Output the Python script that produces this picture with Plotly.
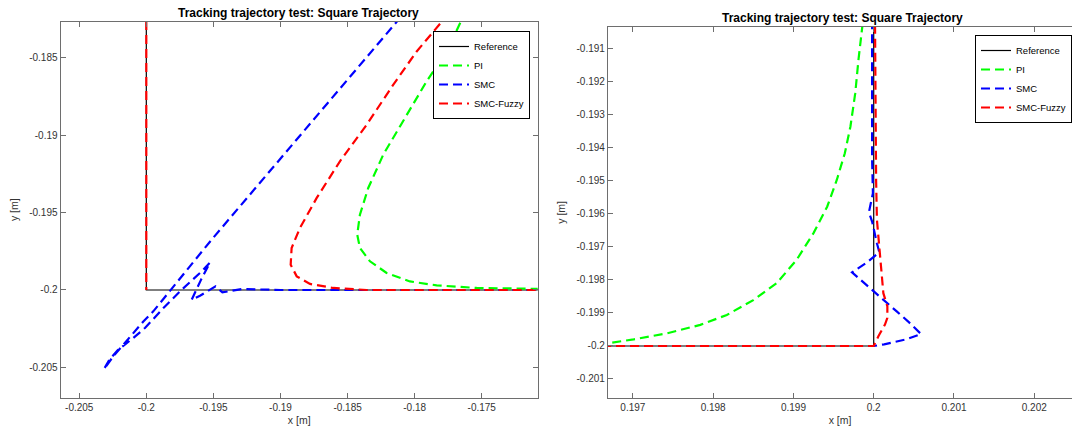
import plotly.graph_objects as go

# ---------------- data ----------------
series_names = ["Reference", "PI", "SMC", "SMC-Fuzzy"]
series_colors = ["#000000", "#00ff00", "#0000ff", "#ff0000"]

# Left panel (corner at (-0.2, -0.2))
left_ref_x = [-0.2, -0.2, -0.16]
left_ref_y = [-0.17, -0.2, -0.2]

left_pi_x = [-0.1748, -0.17655, -0.17762, -0.17911, -0.18085, -0.18234, -0.18346, -0.18408,
             -0.18428, -0.18408, -0.18333, -0.18209, -0.18035, -0.17836, -0.17538, -0.17091, -0.165]
left_pi_y = [-0.1795, -0.18270, -0.18461, -0.18654, -0.18912, -0.19127, -0.19342, -0.19514,
             -0.19643, -0.19729, -0.19815, -0.19890, -0.19945, -0.19970, -0.19987, -0.19998, -0.2]

left_smc_x = [-0.1785, -0.18134, -0.19513, -0.19769, -0.19948, -0.20022, -0.20171, -0.20246, -0.20315,
              -0.20275, -0.20209, -0.20097, -0.20010, -0.19861, -0.19736, -0.19587, -0.19525,
              -0.19590, -0.19662, -0.19600, -0.19484, -0.19433, -0.19380, -0.19291, -0.1900, -0.16]
left_smc_y = [-0.1795, -0.18270, -0.19675, -0.19951, -0.20138, -0.20203, -0.20353, -0.20428, -0.20510,
              -0.20450, -0.20385, -0.20310, -0.20245, -0.20106, -0.19998, -0.19880, -0.19822,
              -0.19930, -0.20063, -0.20037, -0.19977, -0.20015, -0.20008, -0.19994, -0.2000, -0.2]

left_fuzzy_x = [-0.2, -0.2, None,
                -0.1755, -0.17799, -0.17985, -0.18159, -0.18358, -0.18557, -0.18730, -0.18855,
                -0.18917, -0.18924, -0.18879, -0.18780, -0.18607, -0.18358, -0.17, -0.16]
left_fuzzy_y = [-0.17, -0.2, None,
                -0.1800, -0.18270, -0.18461, -0.18675, -0.18934, -0.19170, -0.19406, -0.19600,
                -0.19729, -0.19837, -0.19912, -0.19961, -0.19987, -0.2000, -0.2, -0.2]

# Right panel (corner at (0.2, -0.2))
right_ref_x = [0.19, 0.2, 0.2]
right_ref_y = [-0.2, -0.2, -0.18]

right_pi_x = [0.1950, 0.1960, 0.19668, 0.19701, 0.19742, 0.19784, 0.19817, 0.19850, 0.19879,
              0.19904, 0.19925, 0.19942, 0.19954, 0.19964, 0.19971, 0.19977, 0.19981, 0.19986, 0.19993]
right_pi_y = [-0.19999, -0.19997, -0.19992, -0.19980, -0.19962, -0.19936, -0.19906, -0.19861, -0.19810,
              -0.19739, -0.19658, -0.19578, -0.19497, -0.19416, -0.19335, -0.19234, -0.19133, -0.19032, -0.1888]

right_smc_x = [0.194, 0.2, 0.20013, 0.20040, 0.20059, 0.20043, 0.20029, 0.20008, 0.19996, 0.19973,
               0.19991, 0.20007, 0.20004, 0.19998, 0.19994, 0.19996, 0.19999, 0.19998, 0.19998, 0.19998]
right_smc_y = [-0.2, -0.2, -0.19995, -0.19980, -0.19964, -0.19926, -0.19896, -0.19851, -0.19825, -0.19777,
               -0.19748, -0.19716, -0.19689, -0.19623, -0.19595, -0.19568, -0.19537, -0.19436, -0.1930, -0.1880]

right_fuzzy_x = [0.194, 0.2, 0.20006, 0.20014, 0.20017, 0.20017, 0.20012, 0.20009, 0.20006,
                 0.20004, 0.20003, 0.20002, 0.20001]
right_fuzzy_y = [-0.2, -0.2, -0.19970, -0.19935, -0.19915, -0.19880, -0.19840, -0.19760, -0.19679,
                 -0.19618, -0.19500, -0.19300, -0.18800]

# Ticks
left_xticks = [-0.205, -0.2, -0.195, -0.19, -0.185, -0.18, -0.175]
left_xtick_text = ["-0.205", "-0.2", "-0.195", "-0.19", "-0.185", "-0.18", "-0.175"]
left_yticks = [-0.185, -0.19, -0.195, -0.2, -0.205]
left_ytick_text = ["-0.185", "-0.19", "-0.195", "-0.2", "-0.205"]
right_xticks = [0.197, 0.198, 0.199, 0.2, 0.201, 0.202]
right_xtick_text = ["0.197", "0.198", "0.199", "0.2", "0.201", "0.202"]
right_yticks = [-0.191, -0.192, -0.193, -0.194, -0.195, -0.196, -0.197, -0.198, -0.199, -0.2, -0.201]
right_ytick_text = ["-0.191", "-0.192", "-0.193", "-0.194", "-0.195", "-0.196", "-0.197",
                    "-0.198", "-0.199", "-0.2", "-0.201"]

title_text = "Tracking trajectory test: Square Trajectory"
xlabel = "x [m]"
ylabel = "y [m]"

# ---------------- figure ----------------
W, H = 1072, 434
FONT = "Liberation Sans, Arial, Helvetica, sans-serif"
AXC = "#6e6e6e"
TXC = "#333333"

fig = go.Figure()

left_sets = [(left_ref_x, left_ref_y), (left_pi_x, left_pi_y),
             (left_smc_x, left_smc_y), (left_fuzzy_x, left_fuzzy_y)]
right_sets = [(right_ref_x, right_ref_y), (right_pi_x, right_pi_y),
              (right_smc_x, right_smc_y), (right_fuzzy_x, right_fuzzy_y)]

for panel, sets, xa, ya, lg in [(0, left_sets, "x", "y", "legend"),
                                (1, right_sets, "x2", "y2", "legend2")]:
    for i, (xs, ys) in enumerate(sets):
        if i == 0:
            line = dict(color=series_colors[i], width=1.2)
        else:
            line = dict(color=series_colors[i], width=2.2, dash="9px,5px")
        fig.add_trace(go.Scatter(x=xs, y=ys, mode="lines", name=series_names[i],
                                 line=line, xaxis=xa, yaxis=ya, legend=lg,
                                 connectgaps=False, hoverinfo="skip"))

def px_x(p):
    return p / W

def px_y(p):
    return 1 - p / H

axis_common = dict(showgrid=False, zeroline=False, showline=True, linecolor=AXC, linewidth=1.3,
                   ticks="inside", ticklen=5, tickcolor=AXC, tickwidth=1,
                   tickfont=dict(family=FONT, size=10, color=TXC), automargin=False,
                   tickmode="array")

fig.update_layout(
    width=W, height=H, margin=dict(l=0, r=0, t=0, b=0),
    paper_bgcolor="white", plot_bgcolor="white",
    font=dict(family=FONT, size=10, color=TXC),
    xaxis=dict(domain=[px_x(60.7), px_x(537.7)], range=[-0.20638, -0.17083], anchor="y",
               tickvals=left_xticks, ticktext=left_xtick_text, mirror="ticks",
               title=dict(text=xlabel, font=dict(family=FONT, size=10.5, color=TXC), standoff=4),
               **axis_common),
    yaxis=dict(domain=[px_y(397.7), px_y(21.7)], range=[-0.20695, -0.18269], anchor="x",
               tickvals=left_yticks, ticktext=left_ytick_text, mirror="ticks",
               title=dict(text=ylabel, font=dict(family=FONT, size=10.5, color=TXC), standoff=8),
               **axis_common),
    xaxis2=dict(domain=[px_x(608), 1.0], range=[0.19669, 0.20247], anchor="y2",
                tickvals=right_xticks, ticktext=right_xtick_text, mirror="ticks",
                title=dict(text=xlabel, font=dict(family=FONT, size=10.5, color=TXC), standoff=4),
                **axis_common),
    yaxis2=dict(domain=[px_y(398.3), px_y(26.5)], range=[-0.201585, -0.19032], anchor="x2",
                tickvals=right_yticks, ticktext=right_ytick_text, mirror=False,
                title=dict(text=ylabel, font=dict(family=FONT, size=10.5, color=TXC), standoff=8),
                **axis_common),
    legend=dict(x=px_x(433), y=px_y(31), xanchor="left", yanchor="top",
                bgcolor="white", bordercolor="#000000", borderwidth=1,
                font=dict(family=FONT, size=9.5, color="#000000"), tracegroupgap=0),
    legend2=dict(x=px_x(975), y=px_y(35), xanchor="left", yanchor="top",
                 bgcolor="white", bordercolor="#000000", borderwidth=1,
                 font=dict(family=FONT, size=9.5, color="#000000"), tracegroupgap=0),
    showlegend=True,
    annotations=[
        dict(text="<b>" + title_text + "</b>", x=px_x(298), y=px_y(13), xref="paper", yref="paper",
             xanchor="center", yanchor="middle", showarrow=False,
             font=dict(family=FONT, size=12, color="#000000")),
        dict(text="<b>" + title_text + "</b>", x=px_x(842), y=px_y(18), xref="paper", yref="paper",
             xanchor="center", yanchor="middle", showarrow=False,
             font=dict(family=FONT, size=12, color="#000000")),
    ],
)

fig.write_html("out.html")
